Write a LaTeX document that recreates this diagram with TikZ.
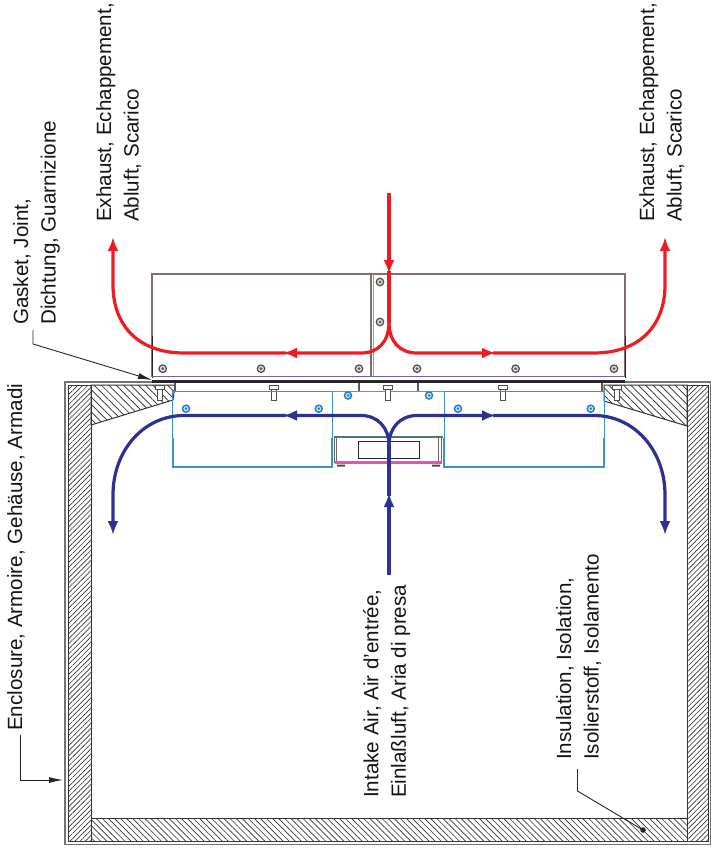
\documentclass[tikz,border=0pt]{standalone}
\usepackage{fontspec}
\setmainfont{Liberation Sans}
\usetikzlibrary{arrows.meta,patterns.meta}
\definecolor{flowred}{HTML}{ED1C24}
\definecolor{flowblue}{HTML}{2E3192}
\definecolor{boxbrown}{HTML}{8A6A6A}
\definecolor{coolblue}{HTML}{3F8FCB}
\definecolor{screwblue}{HTML}{1F7FC8}
\definecolor{devpink}{HTML}{EC4FB0}
\definecolor{devteal}{HTML}{4F7480}
\tikzset{
  lbl/.style={rotate=90,anchor=north west,inner sep=0pt,align=left,font=\fontsize{20.6}{27.6}\selectfont,text=black!92},
  leader/.style={draw=black!85,line width=.9pt},
  leadtip/.style={-{Latex[length=14pt,width=6pt]}},
  redflow/.style={draw=flowred,line width=3.2pt,-{Latex[length=14pt,width=11pt]}},
  blueflow/.style={draw=flowblue,line width=3.2pt,-{Latex[length=14pt,width=11pt]}},
  plain/.style={-},
  wallhatch/.style={draw=black!80,line width=1pt,pattern={Lines[angle=45,distance=3.6pt,line width=.65pt]},pattern color=black!80},
  floorhatch/.style={draw=black!80,line width=1pt,pattern={Lines[angle=-45,distance=4.3pt,line width=.65pt]},pattern color=black!80},
  wedgehatch/.style={draw=black!80,line width=1pt,pattern={Lines[angle=-45,distance=5.2pt,line width=.7pt]},pattern color=black!85},
  greyscrew/.style={circle,draw=black!70,fill=black!15,line width=1.2pt,minimum size=7.5pt,inner sep=0pt},
  greycore/.style={circle,fill=black!65,minimum size=3pt,inner sep=0pt},
  bluescrew/.style={circle,draw=screwblue,fill=screwblue!15,line width=1.5pt,minimum size=7pt,inner sep=0pt},
  bluecore/.style={circle,fill=screwblue,minimum size=3pt,inner sep=0pt},
  shank/.style={draw=black!70,fill=white,line width=1pt},
}
\newcommand{\mybolt}[1]{%
  \draw[shank] (#1-2.5,389) rectangle (#1+2.5,400);
  \draw[shank] (#1-4.5,385.5) rectangle (#1+4.5,389.5);
}
\begin{document}
\begin{tikzpicture}[x=1pt,y=-1pt]
\useasboundingbox (0,0) rectangle (711,850);
% enclosure
\draw[black!55,line width=1.3pt] (65,382) rectangle (710.5,844.5);
\draw[wallhatch] (68,385) rectangle (91,841.5);
\draw[wallhatch] (687,385) rectangle (708.5,841.5);
\draw[floorhatch] (91,818) rectangle (687,841.5);
\draw[wedgehatch] (91,385) -- (175,385) -- (173,400) -- (91,425) -- cycle;
\draw[wedgehatch] (687,385) -- (604,385) -- (604,401) -- (687,426) -- cycle;
% red hood
\draw[boxbrown,line width=1.3pt] (152,377) -- (152,274) -- (625,274) -- (625,377);
\draw[boxbrown,line width=1.3pt] (371,274) -- (371,377);
\draw[boxbrown!70,line width=.7pt] (373.5,274) -- (373.5,377);
\draw[black!85,line width=1pt] (152,336) -- (152,378);
\draw[black!85,line width=1pt] (625,336) -- (625,378);
\draw[blue!50!black!60,line width=1pt] (152,376.5) -- (625,376.5);
\draw[black!85,line width=2.6pt] (152,381.5) -- (625,381.5);
\foreach \p/\q in {162.7/368.7,261/368.7,359/368.7,417/368.7,515.6/368.7,614/368.7,380/282,380/322}{
  \node[greyscrew] at (\p,\q) {};
  \node[greycore] at (\p,\q) {};
}
% cold side
\draw[black!45,line width=1pt] (175,391) -- (604,391);
\foreach \p in {175,359,417.7,601.7}
  \draw[black!65,line width=2pt] (\p,383) -- (\p,391);
\foreach \p in {160,273.7,387.5,502.7,616.7}{\mybolt{\p}}
\draw[coolblue,line width=1pt] (172.7,438) -- (172.7,391) -- (332,391) -- (332,438);
\draw[coolblue,line width=1.8pt] (172.7,438) -- (172.7,467) -- (332,467) -- (332,438);
\draw[coolblue,line width=1pt] (444,438) -- (444,391) -- (604,391) -- (604,438);
\draw[coolblue,line width=1.8pt] (444,438) -- (444,467) -- (604,467) -- (604,438);
\foreach \p/\q in {186/408.7,318.7/408.7,348/395.5,429/395.5,458/408.7,590.7/408.7}{
  \node[bluescrew] at (\p,\q) {};
  \node[bluecore] at (\p,\q) {};
}
% central unit
\draw[devteal,line width=1.6pt] (334,437) -- (443,437);
\draw[black!60,line width=1pt] (334,437) -- (334,463) (336.5,437) -- (336.5,463) (441,437) -- (441,463) (438.5,437) -- (438.5,463);
\draw[black!85,line width=.9pt] (358,441) rectangle (419,458);
\draw[devpink,line width=3pt] (335,462.8) -- (442,462.8);
\fill[black!70] (337,464.5) rectangle (345,466.5) (432,464.5) rectangle (440,466.5);
% flow points
\coordinate (rs) at (389,193);
\coordinate (rh) at (389,274);
\coordinate (rj) at (389,322);
\coordinate (rma) at (496,353);
\coordinate (rmb) at (283,353);
\coordinate (rea) at (665,237);
\coordinate (reb) at (113,237);
\coordinate (bs) at (389,575);
\coordinate (bh) at (389,493);
\coordinate (bj) at (389,445);
\coordinate (bma) at (496,415.5);
\coordinate (bmb) at (283,415.5);
\coordinate (bea) at (665,535);
\coordinate (beb) at (113,535);
% red flow
\draw[redflow] (rs) -- (rh);
\draw[redflow,plain] ([yshift=3pt]rh) -- (rj);
\draw[redflow] (rj) .. controls (389,342) and (400,353) .. (417,353) -- (rma);
\draw[redflow] (rj) .. controls (389,342) and (378,353) .. (361,353) -- (rmb);
\draw[redflow] ([xshift=-3pt]rma) -- (594,353) .. controls (640,353) and (665,325) .. (665,285) -- (rea);
\draw[redflow] ([xshift=3pt]rmb) -- (184,353) .. controls (138,353) and (113,325) .. (113,285) -- (reb);
% blue flow
\draw[blueflow] (bs) -- (bh);
\draw[blueflow,plain] ([yshift=-3pt]bh) -- (bj);
\draw[blueflow] (bj) .. controls (389,428) and (400,415.5) .. (417,415.5) -- (bma);
\draw[blueflow] (bj) .. controls (389,428) and (378,415.5) .. (361,415.5) -- (bmb);
\draw[blueflow] ([xshift=-3pt]bma) -- (594,415.5) .. controls (634,415.5) and (665,450) .. (665,495) -- (bea);
\draw[blueflow] ([xshift=3pt]bmb) -- (184,415.5) .. controls (144,415.5) and (113,450) .. (113,495) -- (beb);
% labels
\node[lbl] (exl) at (96,222) {Exhaust, Echappement,\\Abluft, Scarico};
\node[lbl] (exr) at (639,222) {Exhaust, Echappement,\\Abluft, Scarico};
\node[lbl] (gas) at (13,325) {Gasket, Joint,\\Dichtung, Guarnizione};
\node[lbl] (enc) at (7,731) {Enclosure, Armoire, Gehäuse, Armadi};
\node[lbl] (int) at (363,798) {Intake Air, Air d'entrée,\\Einlaßluft, Aria di presa};
\node[lbl] (ins) at (556,760) {Insulation, Isolation,\\Isolierstoff, Isolamento};
% leaders
\coordinate (gs) at (33,330);
\coordinate (gk) at (33,344);
\coordinate (ge) at (152,380);
\draw[leader,leadtip] (gs) -- (gk) -- (ge);
\coordinate (es) at (20,735);
\coordinate (ek) at (20,780);
\coordinate (ee) at (63,780);
\draw[leader,leadtip] (es) -- (ek) -- (ee);
\coordinate (is) at (577.5,769);
\coordinate (ik) at (577.5,791);
\coordinate (ie) at (643,830);
\draw[leader] (is) -- (ik) -- (ie);
\fill[black!85] (ie) circle (2.8pt);
\end{tikzpicture}
\end{document}
